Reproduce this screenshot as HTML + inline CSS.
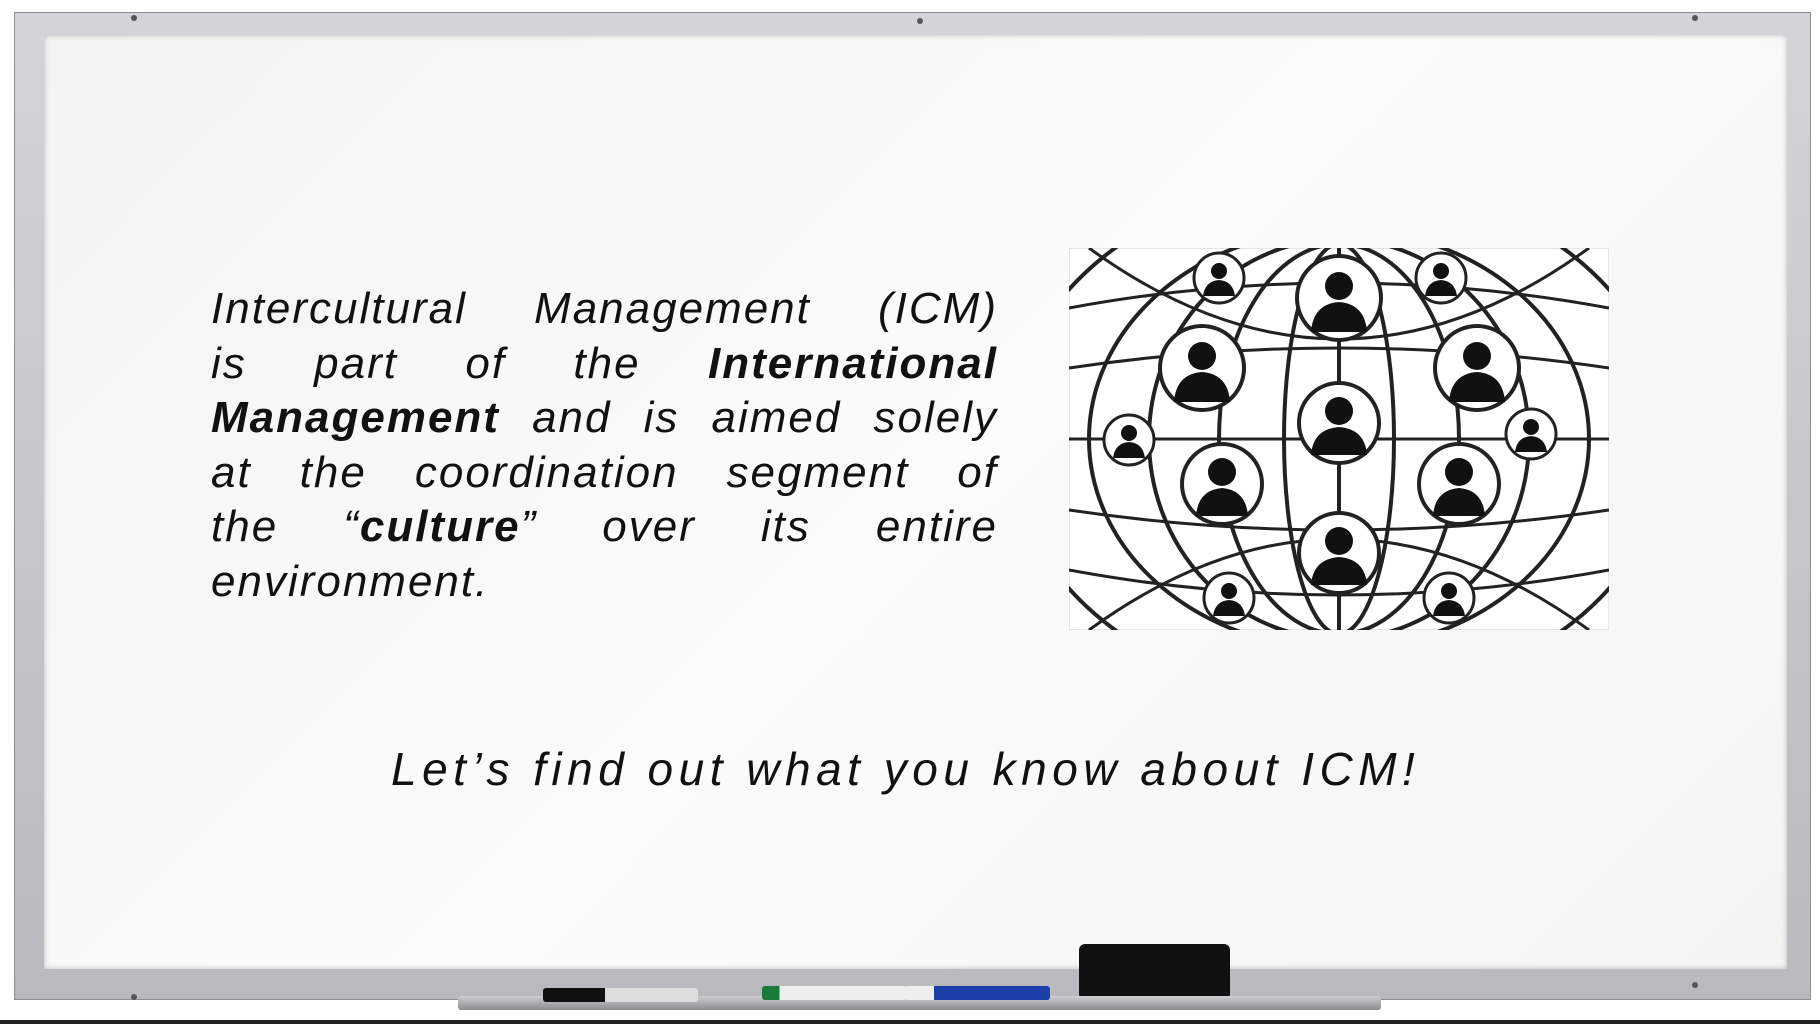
<!DOCTYPE html>
<html><head><meta charset="utf-8">
<style>
html,body{margin:0;padding:0;background:#fff;}
body{width:1820px;height:1024px;position:relative;overflow:hidden;font-family:"Liberation Sans",sans-serif;}
.frame{position:absolute;left:14px;top:12px;width:1797px;height:988px;background:linear-gradient(#d4d4d8,#b9b9be);border:1px solid #8e8e92;box-sizing:border-box;}
.board{position:absolute;left:44px;top:35px;width:1743px;height:934px;background:linear-gradient(135deg,#f3f3f3,#fbfbfb 50%,#f4f4f4);box-shadow:inset 0 0 6px rgba(0,0,0,.25);}
.para{position:absolute;left:211px;top:282px;width:787px;font-style:italic;font-size:44px;line-height:54.6px;letter-spacing:2px;color:#111;}
.para div{text-align:justify;text-align-last:justify;white-space:nowrap;}
.para div.last{text-align-last:left;}
.para b{font-weight:bold;}
.cta{position:absolute;left:391px;top:742px;width:1016px;font-style:italic;font-size:46px;letter-spacing:5.5px;color:#111;white-space:nowrap;}
.tray{position:absolute;left:458px;top:996px;width:923px;height:14px;background:linear-gradient(#cfcfd2,#8c8c90);border-radius:3px;}
.eraser{position:absolute;left:1079px;top:944px;width:151px;height:56px;background:#111;border-radius:6px;}
.marker{position:absolute;height:14px;border-radius:3px;}
.bottomline{position:absolute;left:0;top:1020px;width:1820px;height:4px;background:#222;}
.screw{position:absolute;width:6px;height:6px;border-radius:50%;background:#555;}
</style></head><body>
<div class="frame"></div>
<div class="screw" style="left:131px;top:15px"></div>
<div class="screw" style="left:917px;top:18px"></div>
<div class="screw" style="left:1692px;top:15px"></div>
<div class="board"></div>
<div class="para">
<div style="white-space:normal">Intercultural Management (ICM)</div>
<div style="white-space:normal">is part of the <b>International</b></div>
<div style="white-space:normal"><b>Management</b> and is aimed solely</div>
<div style="white-space:normal">at the coordination segment of</div>
<div style="white-space:normal">the “<b>culture</b>” over its entire</div>
<div class="last">environment.</div>
</div>
<svg style="position:absolute;left:1069px;top:248px" width="540" height="382" viewBox="0 0 540 382">
<rect x="0" y="0" width="540" height="382" fill="#fff" stroke="#ccc"/>
<g fill="none" stroke="#222" stroke-width="4">
<ellipse cx="270" cy="191" rx="250" ry="210"/>
<ellipse cx="270" cy="191" rx="190" ry="200"/>
<ellipse cx="270" cy="191" rx="120" ry="195"/>
<ellipse cx="270" cy="191" rx="55" ry="195"/>
<line x1="270" y1="-10" x2="270" y2="392"/>
<ellipse cx="270" cy="191" rx="330" ry="260"/>
</g>
<g fill="none" stroke="#222" stroke-width="3">
<path d="M0 60 Q270 10 540 60"/><path d="M0 120 Q270 80 540 120"/>
<line x1="0" y1="191" x2="540" y2="191"/>
<path d="M0 262 Q270 302 540 262"/><path d="M0 322 Q270 372 540 322"/>
<path d="M20 382 Q270 200 520 382"/><path d="M20 0 Q270 182 520 0"/>
</g>
<g>
<g transform="translate(270,50)"><circle r="42" fill="#fff" stroke="#222" stroke-width="4"/><circle cy="-12" r="14" fill="#111"/><path d="M-28 34 Q-26 6 0 4 Q26 6 28 34Z" fill="#111"/></g>
<g transform="translate(270,175)"><circle r="40" fill="#fff" stroke="#222" stroke-width="4"/><circle cy="-12" r="14" fill="#111"/><path d="M-28 32 Q-26 6 0 4 Q26 6 28 32Z" fill="#111"/></g>
<g transform="translate(270,305)"><circle r="40" fill="#fff" stroke="#222" stroke-width="4"/><circle cy="-12" r="14" fill="#111"/><path d="M-28 32 Q-26 6 0 4 Q26 6 28 32Z" fill="#111"/></g>
<g transform="translate(133,120)"><circle r="42" fill="#fff" stroke="#222" stroke-width="4"/><circle cy="-12" r="14" fill="#111"/><path d="M-28 34 Q-26 6 0 4 Q26 6 28 34Z" fill="#111"/></g>
<g transform="translate(408,120)"><circle r="42" fill="#fff" stroke="#222" stroke-width="4"/><circle cy="-12" r="14" fill="#111"/><path d="M-28 34 Q-26 6 0 4 Q26 6 28 34Z" fill="#111"/></g>
<g transform="translate(153,236)"><circle r="40" fill="#fff" stroke="#222" stroke-width="4"/><circle cy="-12" r="14" fill="#111"/><path d="M-26 32 Q-24 6 0 4 Q24 6 26 32Z" fill="#111"/></g>
<g transform="translate(390,236)"><circle r="40" fill="#fff" stroke="#222" stroke-width="4"/><circle cy="-12" r="14" fill="#111"/><path d="M-26 32 Q-24 6 0 4 Q24 6 26 32Z" fill="#111"/></g>
<g transform="translate(150,30)"><circle r="25" fill="#fff" stroke="#222" stroke-width="3"/><circle cy="-7" r="8" fill="#111"/><path d="M-16 18 Q-14 3 0 2 Q14 3 16 18Z" fill="#111"/></g>
<g transform="translate(372,30)"><circle r="25" fill="#fff" stroke="#222" stroke-width="3"/><circle cy="-7" r="8" fill="#111"/><path d="M-16 18 Q-14 3 0 2 Q14 3 16 18Z" fill="#111"/></g>
<g transform="translate(60,192)"><circle r="25" fill="#fff" stroke="#222" stroke-width="3"/><circle cy="-7" r="8" fill="#111"/><path d="M-16 18 Q-14 3 0 2 Q14 3 16 18Z" fill="#111"/></g>
<g transform="translate(462,186)"><circle r="25" fill="#fff" stroke="#222" stroke-width="3"/><circle cy="-7" r="8" fill="#111"/><path d="M-16 18 Q-14 3 0 2 Q14 3 16 18Z" fill="#111"/></g>
<g transform="translate(160,350)"><circle r="25" fill="#fff" stroke="#222" stroke-width="3"/><circle cy="-7" r="8" fill="#111"/><path d="M-16 18 Q-14 3 0 2 Q14 3 16 18Z" fill="#111"/></g>
<g transform="translate(380,350)"><circle r="25" fill="#fff" stroke="#222" stroke-width="3"/><circle cy="-7" r="8" fill="#111"/><path d="M-16 18 Q-14 3 0 2 Q14 3 16 18Z" fill="#111"/></g>
</g>
</svg>
<div class="cta">Let’s find out what you know about ICM!</div>
<div class="eraser"></div>
<div class="tray"></div>
<div class="marker" style="left:543px;top:988px;width:155px;background:linear-gradient(90deg,#111 0 40%,#ddd 40%)"></div>
<div class="marker" style="left:762px;top:986px;width:145px;background:linear-gradient(90deg,#1a7a3a 0 12%,#eee 12%)"></div>
<div class="marker" style="left:905px;top:986px;width:145px;background:linear-gradient(90deg,#eee 0 20%,#1d3fa8 20%)"></div>
<div class="screw" style="left:131px;top:994px"></div>
<div class="screw" style="left:1692px;top:982px"></div>
<div class="bottomline"></div>
</body></html>
